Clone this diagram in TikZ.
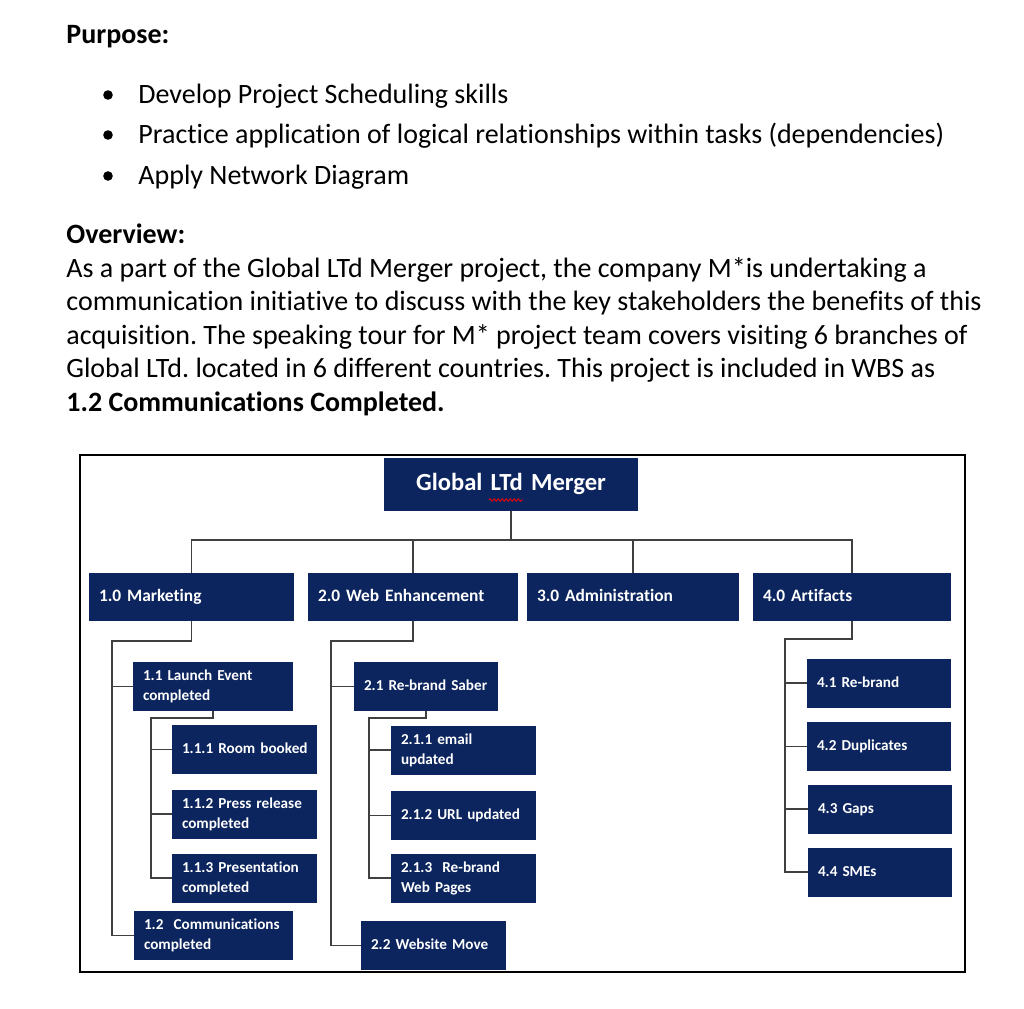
\documentclass[tikz,border=0pt]{standalone}
\usepackage{fontspec}
\setmainfont{Carlito}[Ligatures=NoCommon]
\usetikzlibrary{decorations.pathmorphing}
\frenchspacing

\definecolor{wbsnavy}{RGB}{12,37,94}
\definecolor{wbsline}{RGB}{64,64,64}

\tikzset{
    wbsbox/.style={fill=wbsnavy, text=white, font=\bfseries\fontsize{7.6}{10}\selectfont,
        inner xsep=5pt, inner ysep=0pt, align=left,
        execute at begin node=\strut, execute at end node=\strut},
    lvlone/.style={wbsbox, font=\bfseries\fontsize{8.7}{10}\selectfont, minimum height=24pt},
    task/.style={wbsbox, text width=62.5pt, minimum height=24.5pt},
    link/.style={wbsline, line width=0.75pt},
    body/.style={anchor=base west, inner sep=0pt, font=\fontsize{14}{17}\selectfont},
    bodybold/.style={body, font=\bfseries\fontsize{14}{17}\selectfont},
}

\begin{document}
\begin{tikzpicture}[x=0.5pt, y=-0.5pt]
        \useasboundingbox (0,0) rectangle (1024,1008);

        % Purpose
        \node[bodybold] (purpose) at (66,43) {Purpose:};
        \foreach \y/\txt [count=\i] in {103/Develop Project Scheduling skills,
                143/Practice application of logical relationships within tasks (dependencies),
                184/Apply Network Diagram} {
            \fill (108,\y-8) circle[radius=2.4pt];
            \node[body] (aim\i) at (138,\y) {\txt};
        }

        % Overview
        \node[bodybold] (overview) at (66,243) {Overview:};
        \node[body] (ovl1) at (66,277) {As a part of the Global LTd Merger project, the company M*is undertaking a};
        \node[body] (ovl2) at (66,310) {communication initiative to discuss with the key stakeholders the benefits of this};
        \node[body] (ovl3) at (66,344) {acquisition. The speaking tour for M* project team covers visiting 6 branches of};
        \node[body] (ovl4) at (66,377) {Global LTd. located in 6 different countries. This project is included in WBS as};
        \node[bodybold] (ovl5) at (66,411) {1.2 Communications Completed.};

        % Chart frame
        \draw[line width=1pt] (80,455) rectangle (965,972);

        % Root
        \node[wbsbox, font=\bfseries\fontsize{12.3}{14}\selectfont, align=center,
            text width=117pt, minimum height=26.5pt] (root) at (511,484.5) {Global LTd Merger};
        \draw[red, line width=0.4pt, decorate, decoration={snake, amplitude=0.6pt, segment length=2pt}]
            (489,500) -- (523,500);

        % Level one
        \node[lvlone, text width=92.5pt] (mkt) at (191.5,597) {1.0 Marketing};
        \node[lvlone, text width=95pt] (web) at (413,597) {2.0 Web Enhancement};
        \node[lvlone, text width=96pt] (adm) at (633,597) {3.0 Administration};
        \node[lvlone, text width=89pt] (art) at (852,597) {4.0 Artifacts};

        % Marketing tasks
        \node[task, text width=70pt] (t11) at (213,686.5) {1.1 Launch Event\\completed};
        \node[task] (t111) at (244.5,749.5) {\mbox{1.1.1 Room booked}};
        \node[task] (t112) at (244.5,814) {1.1.2 Press release\\completed};
        \node[task] (t113) at (244.5,878) {1.1.3 Presentation\\completed};
        \node[task, text width=69.5pt] (t12) at (213.5,935.5) {1.2\ \ Communications\\completed};

        % Web tasks
        \node[task, text width=62pt] (t21) at (426,686.5) {2.1 Re-brand Saber};
        \node[task] (t211) at (463.5,750) {2.1.1 email\\updated};
        \node[task] (t212) at (463.5,815.5) {2.1.2 URL updated};
        \node[task] (t213) at (463.5,878) {2.1.3\ \ Re-brand\\Web Pages};
        \node[task] (t22) at (433.5,945.5) {2.2 Website Move};

        % Artifacts tasks
        \node[task, text width=62pt] (t41) at (879,683) {4.1 Re-brand};
        \node[task, text width=62pt] (t42) at (879,746.5) {4.2 Duplicates};
        \node[task, text width=62pt] (t43) at (880,809) {4.3 Gaps};
        \node[task, text width=62pt] (t44) at (880,872) {4.4 SMEs};

        % Connectors
        \coordinate (bus) at (511,540);
        \draw[link] (root.south) -- (bus);
        \foreach \n in {mkt, web, adm, art} {
            \draw[link] (\n.north) |- (bus);
        }

        \coordinate (mktrail) at (112,641);
        \draw[link] (mkt.south) |- (mktrail) -- (mktrail |- t12.west) -- (t12.west);
        \draw[link] (t11.west) -- (mktrail |- t11.west);

        \coordinate (t11rail) at (151,718);
        \draw[link] (t11.south) |- (t11rail) -- (t11rail |- t113.west) -- (t113.west);
        \foreach \n in {t111, t112} {
            \draw[link] (\n.west) -- (t11rail |- \n.west);
        }

        \coordinate (webrail) at (331,641);
        \draw[link] (web.south) |- (webrail) -- (webrail |- t22.west) -- (t22.west);
        \draw[link] (t21.west) -- (webrail |- t21.west);

        \coordinate (t21rail) at (369,718);
        \draw[link] (t21.south) |- (t21rail) -- (t21rail |- t213.west) -- (t213.west);
        \foreach \n in {t211, t212} {
            \draw[link] (\n.west) -- (t21rail |- \n.west);
        }

        \coordinate (artrail) at (785,639);
        \draw[link] (art.south) |- (artrail) -- (artrail |- t44.west) -- (t44.west);
        \foreach \n in {t41, t42, t43} {
            \draw[link] (\n.west) -- (artrail |- \n.west);
        }
    \end{tikzpicture}
\end{document}
